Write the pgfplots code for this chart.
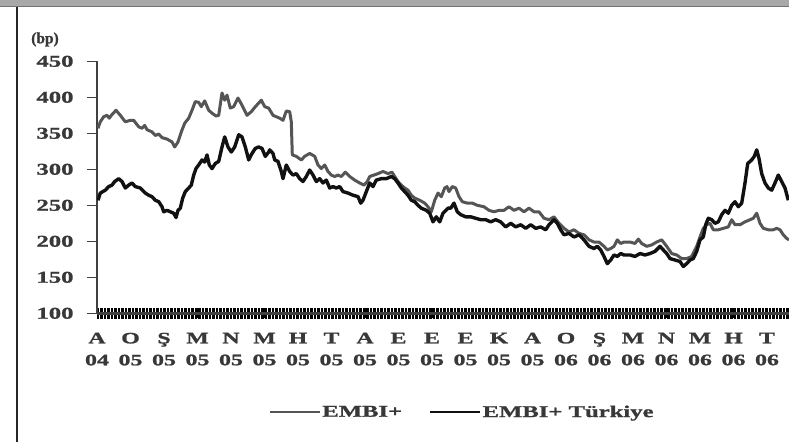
\documentclass[border=0pt]{standalone}
\usepackage{pgfplots}
\pgfplotsset{compat=1.18}
\usepackage{fontspec}
\setmainfont{Liberation Serif}[FakeStretch=1.5, BoldFeatures={FakeBold=1.2}]
\newfontfamily\plainserif{Liberation Serif}[BoldFeatures={FakeBold=1.2}]
\definecolor{embi}{HTML}{555555}
\definecolor{tur}{HTML}{111111}
\definecolor{txt}{HTML}{383838}
\definecolor{axisc}{HTML}{404040}
\begin{document}
\begin{tikzpicture}
\useasboundingbox (0bp,0bp) rectangle (789bp,442bp);
\fill[white] (0bp,0bp) rectangle (789bp,442bp);
\fill[black!34] (0bp,435bp) rectangle (789bp,442bp);
\draw[black!55,line width=1.2bp] (0bp,435.6bp) -- (789bp,435.6bp);
\draw[black!85,line width=1.5bp] (17bp,0bp) -- (17bp,435bp);
\node[font=\plainserif\bfseries\fontsize{15.5}{15.5}\selectfont, text=txt] at (45bp,402.5bp) {(bp)};
\begin{axis}[
  at={(97bp,128.7bp)}, anchor=south west, scale only axis,
  width=692bp, height=252bp,
  xmin=0, xmax=692, ymin=100, ymax=450,
  axis lines=left,
  axis line style={-, axisc, line width=2.5bp},
  ytick={100,150,...,450},
  xtick={0,33.5,...,670},
  minor xtick={0,1.4,...,692},
  xticklabels={{A\\04},{O\\05},{Ş\\05},{M\\05},{N\\05},{M\\05},{H\\05},{T\\05},{A\\05},{E\\05},{E\\05},{E\\05},{K\\05},{A\\05},{O\\06},{Ş\\06},{M\\06},{N\\06},{M\\06},{H\\06},{T\\06}},
  xtick align=center, ytick align=outside,
  major tick length=10bp, minor tick length=11bp,
  ytick style={axisc, line width=1.5bp},
  xtick style={black, line width=0.5bp},
  minor x tick style={black, line width=0.5bp},
  /pgf/number format/assume math mode=true,
  yticklabel style={font=\bfseries\fontsize{16.5}{16.5}\selectfont, text=txt, anchor=east, xshift=-10bp},
  xticklabel style={font=\bfseries\fontsize{16}{22}\selectfont, text=txt, align=center, anchor=north, yshift=-11bp},
  legend columns=2,
  legend style={at={(0.527,-0.392)}, anchor=center, draw=none, fill=none,
    font=\bfseries\fontsize{16.5}{16.5}\selectfont, text=txt,
    nodes={inner sep=1bp},
    /tikz/column 1/.style={column sep=0bp},
    /tikz/column 2/.style={column sep=26bp},
    /tikz/column 3/.style={column sep=0bp},
    /tikz/column 4/.style={column sep=0bp}},
  legend image code/.code={\draw[#1, line width=2.5bp] (0bp,0bp) -- (50bp,0bp);},
  clip=true,
]
\addplot[embi, line width=3bp, line join=round] coordinates {
(1,357)(3.3,366)(6.7,373)(10,375)(12.3,371)(15,376)(19,382)(23.3,375)(28.3,366)(33.3,368)(36.7,368)(41.7,359)(45,357)(47.7,361)(50,355)(55,352)(58.3,347)(61.7,349)(65,344)(70,342)(75,338)(77.7,331)(81,338)(84.3,352)(87.7,364)(91.7,371)(95,382)(98.3,394)(101.7,393)(104.3,387)(107.7,395)(111.7,382)(115,378)(119,374)(121.7,375)(125,406)(127.7,396)(130,403)(133.3,385)(136.7,387)(141,399)(145,389)(150,375)(154.3,380)(158.3,387)(161.7,392)(164.3,396)(167.7,387)(171.7,385)
(176,375)(179.3,373)(182.7,371)(186,368)(189.3,381)(192.7,380)(194.3,366)(195.3,320)(199.3,318)(204.3,313)(207.7,318)(212.7,322)(217.7,318)(221,306)(224.3,301)(227.7,306)(231,297)(234.3,292)(237.7,290)(241,292)(244.3,290)(248.3,296)(252.7,290)(257.7,285)(262.7,281)(267,278)(270.3,283)(272.7,290)(277,292)(281,294)(286,297)(291,294)(295,296)(297.7,290)(301,283)(304.3,278)(307.7,274)(311,271)(314.3,264)(317.7,260)(322.7,257)(327.7,253)(331,248)(334.3,241)(337.7,257)(341,267)(344.3,262)(347.7,274)(350,276)(352,269)
(355.3,276)(358.7,274)(362,262)(365.3,255)(370.3,253)(375.3,253)(380.3,250)(387,248)(392,243)(397,241)(402,243)(407,243)(412,248)(417,243)(422,246)(427,241)(432,246)(437,241)(442,241)(447,232)(452,230)(457,234)(462,225)(467,218)(472,213)(477,216)(482,211)(487,209)(492,202)(497,199)(502,199)(507,193)(510.3,188)(513.7,190)(517,193)(520.3,202)(523.7,197)(527,199)
(533,199)(538,197)(541.3,203)(544.7,197)(549.7,193)(554.7,195)(559.7,199)(564.7,202)(569.7,193)(574.7,183)(579.7,181)(584.7,176)(589.7,176)(594.7,179)(599.7,193)(603,206)(606.3,218)(609.7,223)(613,225)(616.3,216)(621.3,216)(626.3,218)(631.3,220)(634.7,230)(638,223)(643,223)(648,227)(653,230)(656.3,232)(659.7,239)(663,225)(666.3,218)(671.3,216)(676.3,216)(679.7,218)(683,216)(686.3,209)(689.7,204)(692,202)
};
\addlegendentry{EMBI+}
\addplot[tur, line width=3.4bp, line join=round] coordinates {
(1,257)(3.3,267)(8.3,271)(11.7,276)(15,278)(17.7,283)(21.7,287)(25,283)(28.3,274)(31.7,278)(35,281)(38.3,276)(43.3,274)(48.3,267)(51.7,264)(55,262)(58.3,257)(61.7,255)(65,248)(66.7,241)(70,243)(73.3,241)(76.7,239)(79,233)(81,243)(83.3,246)(85.7,260)(88.3,269)(91.7,274)(94.3,278)(96.7,292)(99,301)(101.7,306)(105,313)(107.7,310)(110,320)(112.3,306)(115,301)(118.3,308)(121.7,311)(125,331)(127.7,345)(131,331)(134.3,324)(137.7,331)(141.7,348)(145,345)(148.3,331)(151.7,313)(155,322)(158.3,329)(161.7,331)(165,329)(168.3,318)(171.7,324)
(172.7,327)(176,322)(177.7,313)(181,311)(184.3,297)(186,287)(189.3,306)(192.7,297)(196,292)(199.3,294)(202.7,287)(206,283)(209.3,290)(212.7,299)(216,292)(219.3,283)(222.7,287)(226,281)(229.3,285)(232.7,274)(236,276)(239.3,274)(242.7,276)(246,269)(251,267)(256,264)(261,262)(263.7,253)(266,257)(269.3,269)(272.7,281)(276,276)(279.3,285)(284.3,287)(289.3,287)(294.3,290)(297.7,287)(301,281)(304.3,274)(307.7,269)(311,264)(314.3,257)(317.7,255)(321,250)(324.3,246)(329.3,243)(332.7,239)(336,227)(339.3,234)(342.7,227)(346,239)(351,246)
(353.7,246)(357,253)(360.3,241)(363.7,237)(368.7,234)(373.7,234)(378.7,232)(383.7,230)(388.7,230)(393.7,227)(398.7,230)(403.7,227)(408.7,220)(413.7,225)(418.7,220)(423.7,223)(428.7,218)(433.7,223)(438.7,218)(443.7,220)(448.7,216)(452,223)(457,230)(460.3,225)(463.7,216)(467,209)(472,211)(477,206)(482,209)(487,202)(492,193)(497,190)(500.3,193)(503.7,188)(507,179)(510.3,169)(513.7,174)(517,181)(520.3,179)(523.7,183)(527,181)
(533,181)(538,179)(543,183)(548,181)(553,183)(558,186)(563,193)(566.3,188)(569.7,183)(573,176)(578,174)(583,172)(586.3,165)(589.7,169)(593,174)(596.3,176)(599.7,186)(603,202)(606.3,206)(608.7,223)(611.3,232)(614.7,230)(618,225)(621.3,227)(624.7,237)(628,243)(631.3,239)(634.7,250)(638,255)(641.3,248)(644.7,253)(648,281)(650.7,308)(654.7,313)(657.3,318)(659.7,327)(662,315)(664.7,294)(668,281)(671.3,274)(674.7,271)(678,281)(681.3,292)(684.7,283)(688,274)(691.3,257)
};
\addlegendentry{EMBI+ Türkiye}
\end{axis}
\end{tikzpicture}
\end{document}
